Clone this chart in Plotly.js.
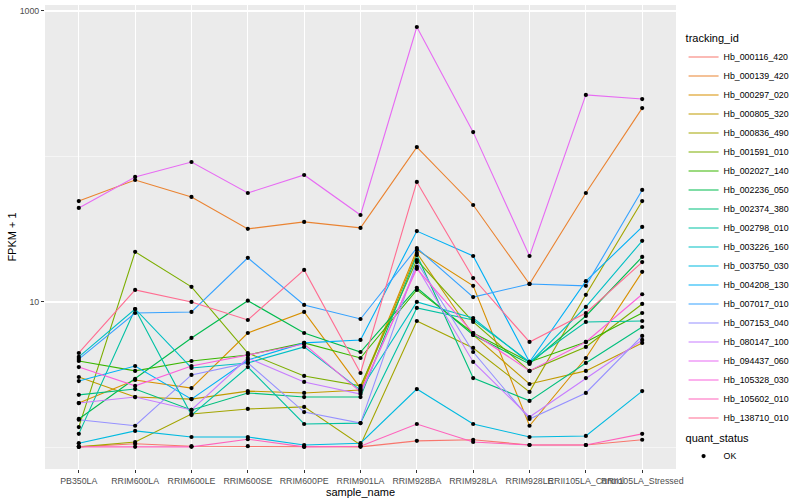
<!DOCTYPE html>
<html>
<head>
<meta charset="utf-8">
<script src="https://cdn.plot.ly/plotly-3.0.1.min.js"></script>
<style>html,body{margin:0;padding:0;background:#fff;}#chart{width:800px;height:500px;}</style>
</head>
<body>
<div id="chart"></div>
<script>
// categories
const sampleNames = ["PB350LA","RRIM600LA","RRIM600LE","RRIM600SE","RRIM600PE","RRIM901LA","RRIM928BA","RRIM928LA","RRIM928LE","RRII105LA_Control","RRII105LA_Stressed"];
const trackingIds = ["Hb_000116_420","Hb_000139_420","Hb_000297_020","Hb_000805_320","Hb_000836_490","Hb_001591_010","Hb_002027_140","Hb_002236_050","Hb_002374_380","Hb_002798_010","Hb_003226_160","Hb_003750_030","Hb_004208_130","Hb_007017_010","Hb_007153_040","Hb_080147_100","Hb_094437_060","Hb_105328_030","Hb_105602_010","Hb_138710_010"];

// FPKM + 1 values, one array per tracking_id
const v000116_420 = [1.01,1.06,1.02,1.02,1.01,1.01,1.11,1.13,1.04,1.04,1.13];
const v000139_420 = [49.4,68.9,52.7,31.8,35.5,32.3,116,46.4,13.3,56.1,215];
const v000297_020 = [2.02,2.91,2.56,6.12,8.54,2.56,22.8,12.9,1.41,4.12,16.1];
const v000805_320 = [3.05,2.22,2.15,2.44,2.37,2.48,21.7,5.93,2.73,3.36,5.23];
const v000836_490 = [1.01,1.09,1.70,1.84,1.90,1.04,7.40,4.83,2.41,11.2,49.4];
const v001591_010 = [1.38,22.1,12.7,4.46,3.10,2.65,19.4,7.29,3.36,4.91,9.69];
const v002027_140 = [3.93,3.36,3.93,4.32,5.23,4.12,12.1,6.12,3.87,5.31,8.40];
const v002236_050 = [1.57,2.96,5.66,10.2,6.12,4.53,12.5,5.93,3.75,8.01,20.4];
const v002374_380 = [2.30,2.52,1.81,2.37,2.22,2.22,21.0,3.00,2.09,3.81,6.73];
const v002798_010 = [1.24,8.95,1.67,3.57,1.45,1.47,9.10,7.52,3.87,7.29,7.40];
const v003226_160 = [4.19,8.95,3.52,3.81,4.91,2.48,10.0,7.76,3.81,9.24,26.3];
const v003750_030 = [1.07,1.30,1.18,1.18,1.04,1.07,2.52,1.45,1.18,1.20,2.44];
const v004208_130 = [2.86,3.63,2.15,3.99,5.23,5.48,30.7,20.7,3.87,13.9,32.8];
const v007017_010 = [4.05,8.40,8.54,20.1,9.54,7.64,23.5,10.8,13.3,12.9,58.9];
const v007153_040 = [1.55,1.41,3.15,3.81,1.75,1.47,18.8,4.53,1.57,2.37,5.84];
const v080147_100 = [2.02,2.22,1.81,4.12,2.82,2.33,17.4,3.87,1.62,3.00,5.48];
const v094437_060 = [44.3,72.3,91.6,56.1,74.6,39.6,776,147,20.7,265,248];
const v105328_030 = [3.57,2.65,3.63,4.32,5.14,2.41,16.9,6.12,3.36,5.31,11.3];
const v105602_010 = [1.01,1.01,1.01,1.14,1.01,1.02,1.45,1.09,1.04,1.04,1.24];
const v138710_010 = [4.46,12.1,10.0,7.52,16.6,3.25,66.8,14.6,5.31,8.40,18.8];

const seriesValues = [v000116_420,v000139_420,v000297_020,v000805_320,v000836_490,v001591_010,v002027_140,v002236_050,v002374_380,v002798_010,v003226_160,v003750_030,v004208_130,v007017_010,v007153_040,v080147_100,v094437_060,v105328_030,v105602_010,v138710_010];

const yTickVals = [10, 1000];
const yTickText = ["10", "1000"];

// ggplot2 hue palette, 20 levels
const hueColors = ["#F8766D","#EA8331","#D89000","#C09B00","#A3A500","#7CAE00","#39B600","#00BB4E","#00BF7D","#00C1A3","#00BFC4","#00BAE0","#00B0F6","#35A2FF","#9590FF","#C77CFF","#E76BF3","#FA62DB","#FF62BC","#FF6C91"];

const traces = [];
trackingIds.forEach((id, i) => {
  traces.push({
    type: 'scatter', mode: 'lines',
    x: sampleNames, y: seriesValues[i],
    name: id, legend: 'legend',
    line: {color: hueColors[i], width: 1.1},
    hoverinfo: 'skip'
  });
});
const allX = [], allY = [];
seriesValues.forEach(arr => arr.forEach((v, j) => { allX.push(sampleNames[j]); allY.push(v); }));
traces.push({
  type: 'scatter', mode: 'markers',
  x: allX, y: allY, name: 'OK', legend: 'legend2',
  marker: {color: '#000000', size: 4.2, symbol: 'circle'},
  hoverinfo: 'skip'
});

const FONT = 'Liberation Sans, Arial, sans-serif';
const layout = {
  width: 800, height: 500,
  margin: {l: 45, r: 113, t: 5, b: 31},
  paper_bgcolor: '#FFFFFF',
  plot_bgcolor: '#EBEBEB',
  font: {family: FONT, size: 9, color: '#000'},
  showlegend: true,
  xaxis: {
    type: 'category',
    categoryorder: 'array', categoryarray: sampleNames,
    tickmode: 'array', tickvals: sampleNames, ticktext: sampleNames,
    range: [-0.6, 10.6],
    tickangle: 0,
    showgrid: true, gridcolor: '#FFFFFF', gridwidth: 1.1,
    zeroline: false, showline: false,
    ticks: 'outside', ticklen: 3, tickcolor: '#333333', tickwidth: 1,
    tickfont: {family: FONT, size: 8.8, color: '#4D4D4D'},
    title: {text: 'sample_name', font: {family: FONT, size: 11, color: '#000'}, standoff: 0},
    fixedrange: true
  },
  yaxis: {
    type: 'log',
    range: [-0.148, 3.041],
    tickmode: 'array', tickvals: yTickVals, ticktext: yTickText,
    showgrid: true, gridcolor: '#FFFFFF', gridwidth: 1.1,
    minor: {tickmode: 'array', tickvals: [1, 100], showgrid: true, gridcolor: '#FFFFFF', gridwidth: 0.5, ticks: ''},
    zeroline: false, showline: false,
    ticks: 'outside', ticklen: 3, tickcolor: '#333333', tickwidth: 1,
    tickfont: {family: FONT, size: 8.8, color: '#4D4D4D'},
    title: {text: 'FPKM + 1', font: {family: FONT, size: 11, color: '#000'}, standoff: 0},
    fixedrange: true
  },
  legend: {
    x: 1.012, xanchor: 'left', y: 0.95, yanchor: 'top',
    bgcolor: 'rgba(0,0,0,0)',
    title: {text: 'tracking_id', font: {family: FONT, size: 11, color: '#000'}},
    font: {family: FONT, size: 8.8, color: '#000'},
    itemwidth: 30, tracegroupgap: 0
  },
  legend2: {
    x: 1.012, xanchor: 'left', y: 0.09, yanchor: 'top',
    bgcolor: 'rgba(0,0,0,0)',
    title: {text: 'quant_status', font: {family: FONT, size: 11, color: '#000'}},
    font: {family: FONT, size: 8.8, color: '#000'},
    itemwidth: 30
  }
};

Plotly.newPlot('chart', traces, layout, {staticPlot: true, displayModeBar: false});
</script>
</body>
</html>
